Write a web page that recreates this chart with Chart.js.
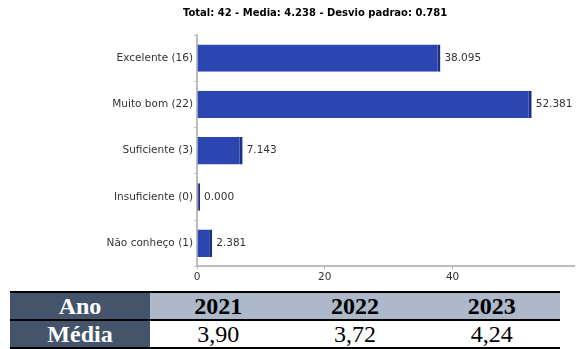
<!DOCTYPE html>
<html>
<head>
<meta charset="utf-8">
<script src="https://cdn.jsdelivr.net/npm/chart.js@4/dist/chart.umd.min.js"></script>
<style>
  body { margin: 0; background: #fff; }
  #wrap { position: relative; width: 585px; height: 290px; }
  table.medias {
    position: absolute; top: 291px; left: 10px; width: 550px;
    border-collapse: collapse; font-family: "Liberation Serif", "Times New Roman", serif;
    font-size: 24px; line-height: 24px; text-align: center;
  }
  table.medias td { padding: 0; height: 26px; }
  table.medias tr.head td { border-top: 2px solid #000; border-bottom: 2px solid #000; background: #ADB9CA; font-weight: bold; color: #000; }
  table.medias tr.vals td { border-bottom: 2px solid #000; }
  table.medias tr td.rowname { background: #44546A; color: #fff; font-weight: bold; width: 140px; }
</style>
</head>
<body>
<div id="wrap"><canvas id="grafico"></canvas></div>
<table class="medias">
  <tr class="head" id="linhaAno"></tr>
  <tr class="vals" id="linhaMedia"></tr>
</table>
<script>
// dados
var categorias = ['Excelente (16)', 'Muito bom (22)', 'Suficiente (3)', 'Insuficiente (0)', 'Não conheço (1)'];
var percentuais = [38.095, 52.381, 7.143, 0.000, 2.381];
var ticksX = [0, 20, 40];
var total = 42, media = 4.238, desvio = 0.781;
var anos = ['2021', '2022', '2023'];
var mediasAno = ['3,90', '3,72', '4,24'];

// tabela de medias
var trAno = document.getElementById('linhaAno');
var trMedia = document.getElementById('linhaMedia');
trAno.innerHTML = '<td class="rowname">Ano</td>' + anos.map(function (a) { return '<td>' + a + '</td>'; }).join('');
trMedia.innerHTML = '<td class="rowname">Média</td>' + mediasAno.map(function (m) { return '<td>' + m + '</td>'; }).join('');

var azul = '#2C46B1';
var azulEscuro = '#1F2F85';
var cinza = '#BDBDBD';

// rotulos de valor na ponta das barras
var rotulos = {
    id: 'rotulos',
    afterDatasetsDraw: function (chart) {
        var ctx = chart.ctx;
        ctx.save();
        ctx.font = '10.5px "DejaVu Sans"';
        ctx.fillStyle = '#333';
        ctx.textBaseline = 'middle';
        chart.getDatasetMeta(0).data.forEach(function (bar, i) {
            ctx.fillText(percentuais[i].toFixed(3), bar.x + 4, bar.y);
        });
        ctx.restore();
    }
};

var ctx = document.getElementById('grafico').getContext('2d');
var chart = new Chart(ctx, {
    type: 'bar',
    data: {
        labels: categorias,
        datasets: [{
            data: percentuais,
            backgroundColor: function (c) { return c.raw === 0 ? azulEscuro : azul; },
            borderColor: azulEscuro,
            borderWidth: { right: 3, left: 0, top: 0, bottom: 0 },
            borderSkipped: false,
            minBarLength: 3,
            barPercentage: 0.74,
            categoryPercentage: 0.8
        }]
    },
    options: {
        indexAxis: 'y',
        responsive: true,
        maintainAspectRatio: false,
        animation: false,
        layout: { padding: { left: 56, right: 11, top: 0, bottom: 4 } },
        plugins: {
            legend: { display: false },
            tooltip: { enabled: false },
            title: {
                display: true,
                text: 'Total: ' + total + ' - Media: ' + media.toFixed(3) + ' - Desvio padrao: ' + desvio.toFixed(3),
                color: '#000',
                font: { family: 'DejaVu Sans', size: 10, weight: 'bold' },
                padding: { top: 7, bottom: 16 }
            }
        },
        scales: {
            y: {
                grid: { drawOnChartArea: false, drawTicks: true, tickLength: 3, color: cinza },
                border: { color: cinza, width: 2 },
                ticks: { color: '#333', padding: 1, font: { family: 'DejaVu Sans', size: 10.5 } },
                afterFit: function (s) { s.width = 141; }
            },
            x: {
                min: 0,
                max: 59,
                afterBuildTicks: function (s) { s.ticks = ticksX.map(function (v) { return { value: v }; }); },
                grid: { drawOnChartArea: false, drawTicks: true, tickLength: 3, color: cinza },
                border: { color: cinza, width: 2 },
                ticks: { color: '#333', padding: 2, font: { family: 'DejaVu Sans', size: 10.5 } }
            }
        }
    },
    plugins: [rotulos]
});
</script>
</body>
</html>
